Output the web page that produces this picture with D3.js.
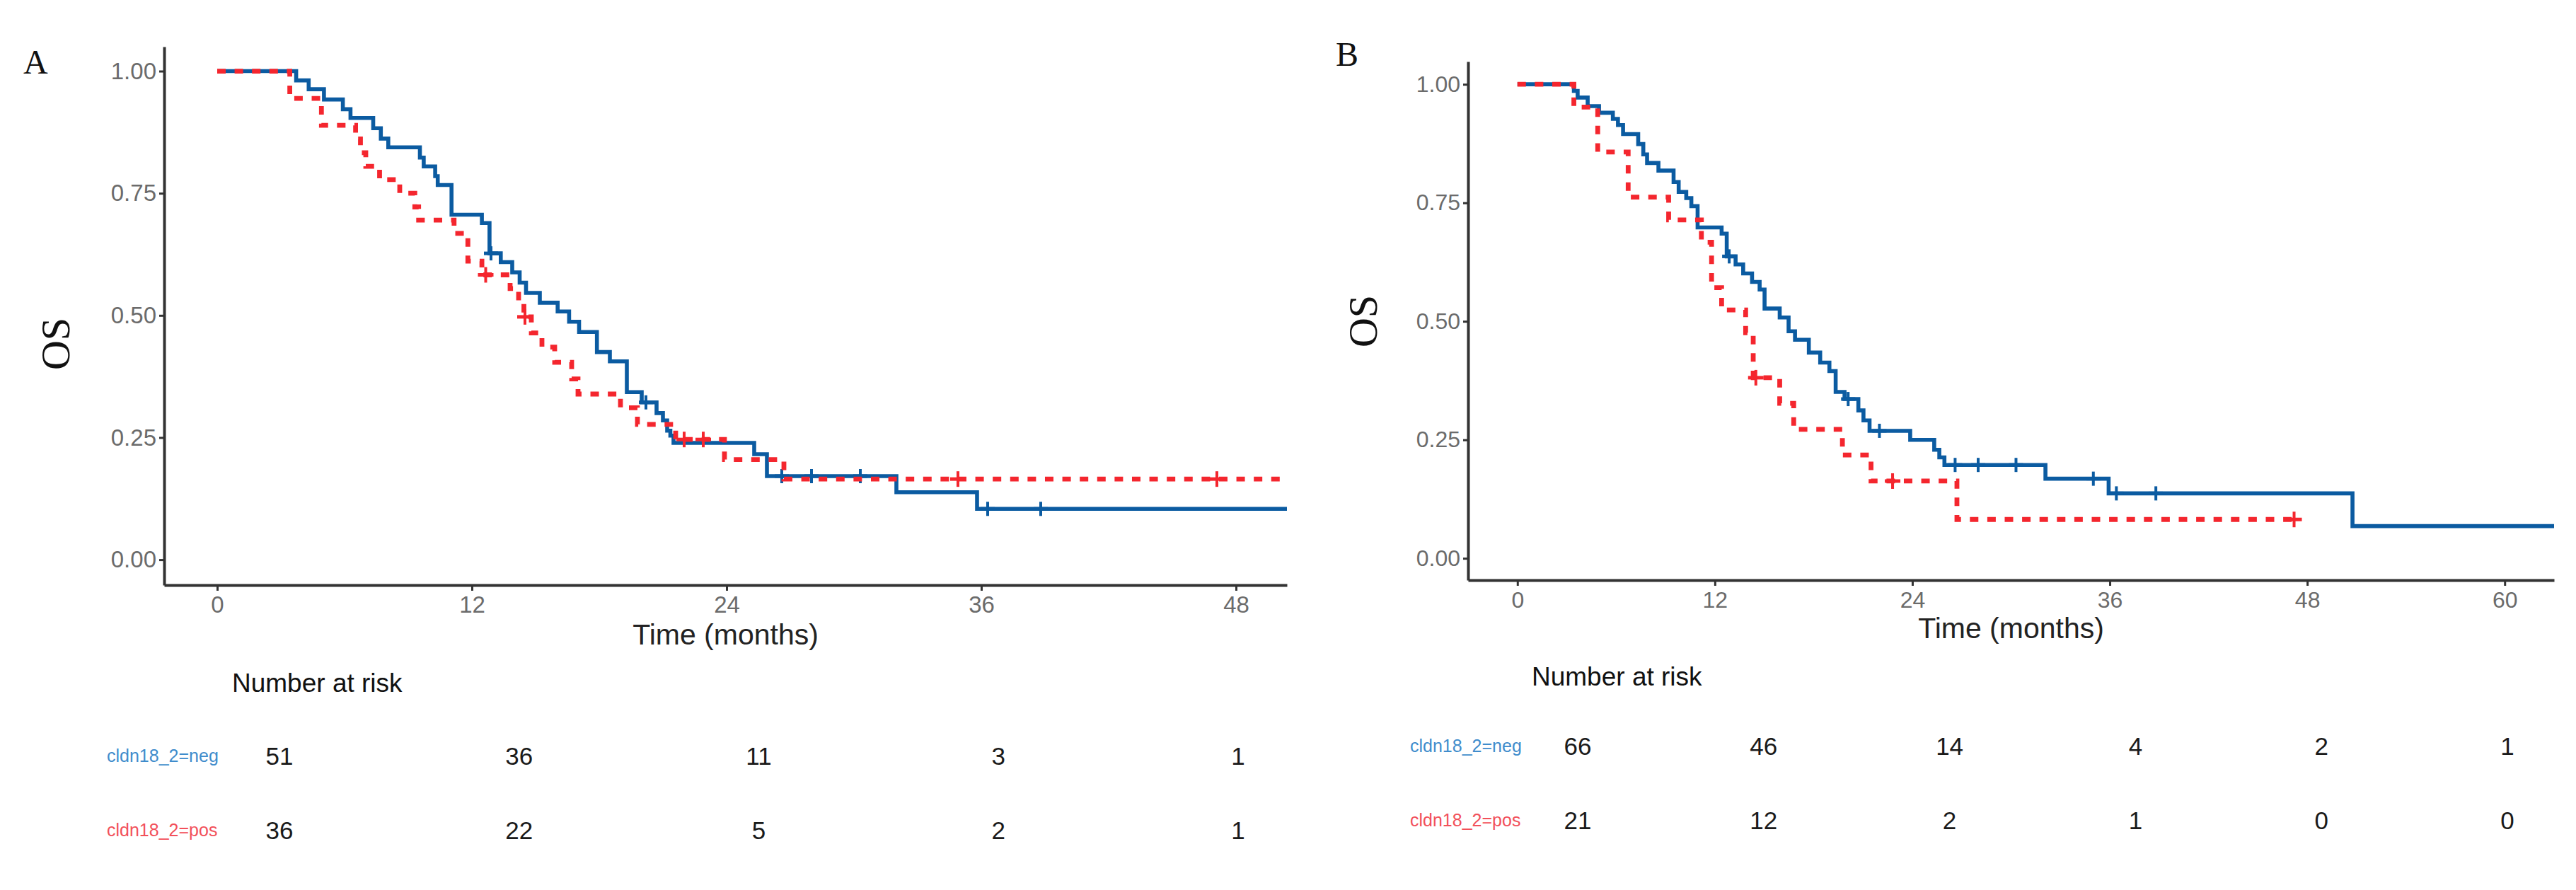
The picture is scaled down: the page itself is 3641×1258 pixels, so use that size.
<html>
<head>
<title>OS by cldn18_2</title>
<script src="https://d3js.org/d3.v7.min.js"></script>
<style>
  body { margin: 0; background: #fff; }
  text { font-family: "Liberation Sans", Arial, sans-serif; }
</style>
</head>
<body>
<script>
// ---- data ----
const survTicks = [0, 0.25, 0.5, 0.75, 1];
const monthTicksA = [0, 12, 24, 36, 48];
const monthTicksB = [0, 12, 24, 36, 48, 60];
const groups = ["cldn18_2=neg", "cldn18_2=pos"];

// panel A
const timeANeg = [0, 3.72, 4.31, 5.03, 5.92, 6.28, 7.35, 7.71, 8.06, 9.55, 9.73, 10.27, 10.39, 11.04, 12.47, 12.83, 13.36, 13.9, 14.25, 14.55, 15.2, 16.04, 16.58, 17.05, 17.89, 18.5, 19.3, 20.0, 20.7, 21.0, 21.2, 21.35, 21.5, 25.3, 25.9, 32.0, 35.8, 50.4];
const survANeg = [1, 0.981, 0.963, 0.942, 0.922, 0.904, 0.883, 0.862, 0.844, 0.823, 0.805, 0.785, 0.767, 0.706, 0.689, 0.627, 0.609, 0.588, 0.567, 0.546, 0.526, 0.508, 0.487, 0.466, 0.425, 0.406, 0.343, 0.322, 0.300, 0.285, 0.264, 0.254, 0.239, 0.216, 0.171, 0.138, 0.104, 0.104];
const censorANeg = [12.9, 20.2, 26.6, 28.0, 30.3, 36.3, 38.8];

const timeAPos = [0, 3.42, 4.91, 6.52, 6.75, 7.0, 7.65, 8.6, 9.31, 9.49, 11.16, 11.81, 12.47, 13.8, 14.2, 14.45, 14.8, 15.3, 15.9, 16.7, 17.0, 19.0, 19.8, 21.6, 23.9, 26.7, 50.4];
const survAPos = [1, 0.944, 0.889, 0.861, 0.833, 0.805, 0.778, 0.75, 0.722, 0.695, 0.668, 0.611, 0.583, 0.555, 0.527, 0.497, 0.464, 0.435, 0.404, 0.37, 0.339, 0.311, 0.277, 0.246, 0.205, 0.165, 0.165];
const censorAPos = [12.65, 14.5, 22.0, 22.9, 34.9, 47.1];

const riskNegA = [51, 36, 11, 3, 1];
const riskPosA = [36, 22, 5, 2, 1];

// panel B
const timeBNeg = [0, 3.43, 3.66, 4.27, 4.96, 5.8, 6.11, 6.42, 7.34, 7.65, 7.88, 8.57, 9.49, 9.8, 10.26, 10.57, 10.95, 12.41, 12.72, 13.26, 13.72, 14.26, 14.72, 15.02, 15.94, 16.48, 16.87, 17.71, 18.4, 18.96, 19.34, 19.88, 20.72, 21.03, 21.4, 23.87, 25.33, 25.64, 25.95, 32.09, 35.93, 50.75, 63];
const survBNeg = [1, 0.986, 0.972, 0.954, 0.940, 0.927, 0.914, 0.895, 0.874, 0.852, 0.834, 0.818, 0.794, 0.773, 0.760, 0.743, 0.698, 0.685, 0.637, 0.620, 0.601, 0.583, 0.567, 0.527, 0.508, 0.479, 0.461, 0.434, 0.413, 0.395, 0.351, 0.336, 0.312, 0.291, 0.269, 0.250, 0.229, 0.213, 0.197, 0.168, 0.137, 0.068, 0.068];
const censorBNeg = [12.87, 20.1, 22.0, 26.6, 28.0, 30.3, 35.0, 36.4, 38.8];

const timeBPos = [0, 3.43, 4.88, 6.73, 9.19, 11.18, 11.8, 12.41, 13.87, 14.33, 15.94, 16.79, 19.75, 21.49, 26.71, 47.2];
const survBPos = [1, 0.952, 0.857, 0.762, 0.714, 0.667, 0.571, 0.524, 0.476, 0.381, 0.327, 0.272, 0.218, 0.163, 0.082, 0.082];
const censorBPos = [14.49, 22.8, 47.2];

const riskNegB = [66, 46, 14, 4, 2, 1];
const riskPosB = [21, 12, 2, 1, 0, 0];

// ---- drawing ----
const W = 3641, H = 1258;
const blue = "#0b5ba1", red = "#f4262e";
const blueLabel = "#3f8ccc", redLabel = "#f2505a";

const svg = d3.select("body").append("svg")
    .attr("width", W)
    .attr("height", H);

function steps(times, surv) {
    return times.map((t, i) => ({t: t, s: surv[i]}));
}

function survAt(times, surv, t) {
    let k = 0;
    for (let i = 0; i < times.length; i++) if (times[i] <= t) k = i;
    return surv[k];
}

function drawPanel(p) {
    const x = d3.scaleLinear().domain(p.xDomain).range([p.left, p.right]);
    const y = d3.scaleLinear().domain(p.yDomain).range([p.bottom, p.top]);

    // panel letter
    svg.append("text")
        .attr("x", p.letterX).attr("y", p.letterY)
        .style("font-family", "'Liberation Serif', 'Times New Roman', serif")
        .style("font-size", "48px")
        .attr("fill", "#111")
        .text(p.letter);

    // y label
    svg.append("text")
        .attr("transform", `translate(${p.osX},${p.osY}) rotate(-90)`)
        .attr("text-anchor", "middle")
        .style("font-family", "'Liberation Serif', 'Times New Roman', serif")
        .style("font-size", "58px")
        .attr("fill", "#111")
        .text("OS");

    const xAxis = d3.axisBottom(x).tickValues(p.ticks).tickSize(8).tickSizeOuter(0).tickPadding(8);
    const yAxis = d3.axisLeft(y).tickValues(survTicks).tickFormat(d3.format(".2f")).tickSize(7).tickSizeOuter(0).tickPadding(4);

    const gx = svg.append("g").attr("transform", `translate(0,${p.bottom})`).call(xAxis);
    const gy = svg.append("g").attr("transform", `translate(${p.left},0)`).call(yAxis);
    [gx, gy].forEach(g => {
        g.select(".domain").attr("stroke", "#333").attr("stroke-width", 4);
        g.selectAll(".tick line").attr("stroke", "#333").attr("stroke-width", 3);
        g.selectAll(".tick text").attr("fill", "#6b6b6b").style("font-size", p.tickFont + "px")
            .style("font-family", "'Liberation Sans', Arial, sans-serif");
    });

    svg.append("text")
        .attr("x", (p.left + p.right) / 2).attr("y", p.titleY)
        .attr("text-anchor", "middle")
        .style("font-size", "41px")
        .attr("fill", "#222")
        .text("Time (months)");

    const line = d3.line()
        .x(d => x(d.t))
        .y(d => y(d.s))
        .curve(d3.curveStepAfter);

    const series = [
        {times: p.negT, surv: p.negS, cens: p.negC, color: blue, width: 5.6, dash: null, tick: 10},
        {times: p.posT, surv: p.posS, cens: p.posC, color: red, width: 6.8, dash: "12,12.6", tick: 11}
    ];

    series.forEach(sr => {
        svg.append("path")
            .datum(steps(sr.times, sr.surv))
            .attr("fill", "none")
            .attr("stroke", sr.color)
            .attr("stroke-width", sr.width)
            .attr("stroke-dasharray", sr.dash)
            .attr("d", line);

        const marks = svg.append("g");
        sr.cens.forEach(c => {
            const cx = x(c), cy = y(survAt(sr.times, sr.surv, c));
            marks.append("line")
                .attr("x1", cx).attr("x2", cx)
                .attr("y1", cy - sr.tick).attr("y2", cy + sr.tick)
                .attr("stroke", sr.color).attr("stroke-width", 4);
            marks.append("line")
                .attr("x1", cx - sr.tick).attr("x2", cx + sr.tick)
                .attr("y1", cy).attr("y2", cy)
                .attr("stroke", sr.color).attr("stroke-width", 5);
        });
    });

    // number at risk table
    const rx = d3.scaleLinear().domain([0, d3.max(p.ticks)]).range(p.riskRange);
    svg.append("text")
        .attr("x", p.riskTitleX).attr("y", p.riskTitleY)
        .style("font-size", "37px")
        .attr("fill", "#111")
        .text("Number at risk");

    const rows = [
        {name: groups[0], vals: p.riskNeg, y: p.riskNegY, color: blueLabel},
        {name: groups[1], vals: p.riskPos, y: p.riskPosY, color: redLabel}
    ];
    rows.forEach(r => {
        svg.append("text")
            .attr("x", p.riskLabelX).attr("y", r.y - 4)
            .style("font-size", "25px")
            .attr("fill", r.color)
            .text(r.name);
        svg.append("g").selectAll("text")
            .data(r.vals)
            .enter()
            .append("text")
            .attr("x", (d, i) => rx(p.ticks[i]))
            .attr("y", r.y)
            .attr("text-anchor", "middle")
            .style("font-size", "35px")
            .attr("fill", "#1a1a1a")
            .text(d => d);
    });
}

drawPanel({
    letter: "A", letterX: 33, letterY: 104, osX: 98, osY: 486,
    xDomain: [-2.5, 50.4], left: 232, right: 1819,
    yDomain: [-0.052, 1.05], top: 66, bottom: 827,
    ticks: monthTicksA, tickFont: 33, titleY: 911,
    negT: timeANeg, negS: survANeg, negC: censorANeg,
    posT: timeAPos, posS: survAPos, posC: censorAPos,
    riskNeg: riskNegA, riskPos: riskPosA, riskRange: [395, 1750],
    riskTitleX: 328, riskTitleY: 978, riskLabelX: 151, riskNegY: 1081, riskPosY: 1186
});

drawPanel({
    letter: "B", letterX: 1888, letterY: 93, osX: 1946, osY: 454,
    xDomain: [-3.0, 63], left: 2075, right: 3610,
    yDomain: [-0.046, 1.048], top: 87, bottom: 820,
    ticks: monthTicksB, tickFont: 32, titleY: 902,
    negT: timeBNeg, negS: survBNeg, negC: censorBNeg,
    posT: timeBPos, posS: survBPos, posC: censorBPos,
    riskNeg: riskNegB, riskPos: riskPosB, riskRange: [2230, 3544],
    riskTitleX: 2165, riskTitleY: 969, riskLabelX: 1993, riskNegY: 1067, riskPosY: 1172
});
</script>
</body>
</html>
